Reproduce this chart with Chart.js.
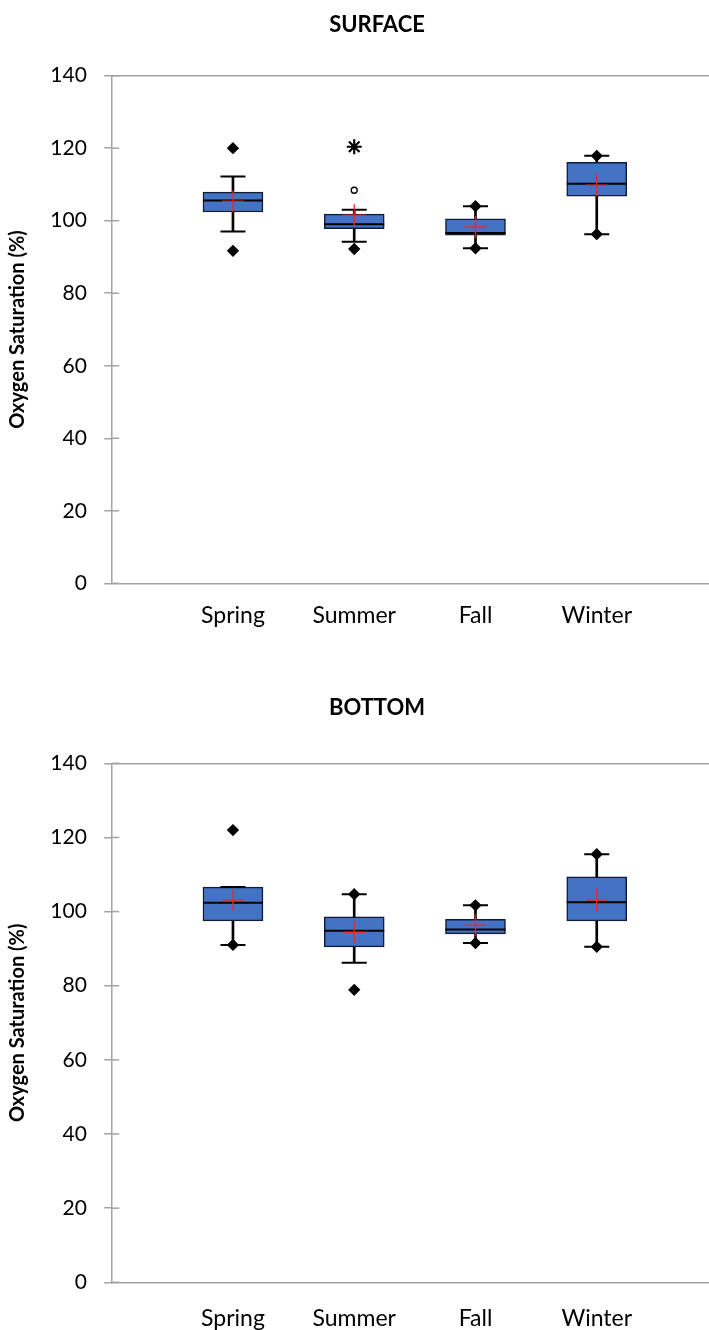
<!DOCTYPE html>
<html>
<head>
<meta charset="utf-8">
<script src="https://cdn.jsdelivr.net/npm/chart.js@4/dist/chart.umd.min.js"></script>
<style>
  html, body { margin: 0; padding: 0; background: #fff; overflow: hidden; width: 709px; }
  canvas { display: block; }
</style>
</head>
<body>
<canvas id="surfaceChart" width="754" height="665"></canvas>
<canvas id="bottomChart" width="754" height="665"></canvas>
<script>
var seasons = ['Spring', 'Summer', 'Fall', 'Winter'];
var yTicks = [0, 20, 40, 60, 80, 100, 120, 140];

// SURFACE
var surfWhiskLo = [97.0, 94.2, 92.4, 96.3],
	surfQ1      = [102.4, 97.8, 96.0, 106.8],
	surfMedian  = [105.6, 99.0, 96.6, 110.2],
	surfQ3      = [107.9, 101.8, 100.5, 116.1],
	surfWhiskHi = [112.2, 103.0, 104.0, 117.9],
	surfMean    = [105.4, 101.5, 98.3, 109.8],
	surfMin     = [91.7, 92.2, 92.4, 96.3],
	surfMax     = [120.0, null, 104.0, 117.9],
	surfMild    = [null, 108.4, null, null],
	surfExtreme = [null, 120.4, null, null];

// BOTTOM
var botWhiskLo = [91.0, 86.2, 91.5, 90.5],
	botQ1      = [97.5, 90.5, 94.0, 97.5],
	botMedian  = [102.4, 94.8, 95.2, 102.5],
	botQ3      = [106.6, 98.6, 97.9, 109.4],
	botWhiskHi = [106.6, 104.7, 101.7, 115.5],
	botMean    = [103.1, 94.4, 96.3, 103.1],
	botMin     = [91.0, 78.9, 91.5, 90.5],
	botMax     = [122.0, 104.7, 101.7, 115.5],
	botMild    = [null, null, null, null],
	botExtreme = [null, null, null, null];

var AXIS_GRAY = '#a3a3a3',
	BOX_BLUE  = '#4472C4';

Chart.defaults.font.family = 'Lato';
Chart.defaults.color = '#000';

function pts(arr) {
	var out = [];
	for (let i=0; i<arr.length; i++) {
		if (arr[i] != null) out.push({x: i+1, y: arr[i]});
	}
	return out;
}
function ranges(lo, hi) {
	return lo.map((v,i) => ({x: i+1, y: [v, hi[i]]}));
}

// inner half of the crossing tick marks on the y axis
const innerTicks = {
	id: 'innerTicks',
	afterLayout(chart) {
		// title sits centred on the full (uncropped) chart width
		chart.titleBlock.left += 18;
		chart.titleBlock.right += 18;
	},
	afterDraw(chart) {
		const ys = chart.scales.y, ctx = chart.ctx;
		ctx.save();
		ctx.strokeStyle = AXIS_GRAY;
		ctx.lineWidth = 1.5;
		ys.ticks.forEach(t => {
			const py = ys.getPixelForValue(t.value);
			ctx.beginPath();
			ctx.moveTo(ys.right, py);
			ctx.lineTo(ys.right + 7.5, py);
			ctx.stroke();
		});
		ctx.restore();
	}
};

function makeChart(id, title, d, lay) {
	const ctx = document.getElementById(id).getContext('2d');
	return new Chart(ctx, {
		type: 'bar',
		data: {
			datasets: [
				{ // whiskers
					type: 'bar', order: 10, grouped: false,
					data: ranges(d.whiskLo, d.whiskHi),
					backgroundColor: '#000', borderWidth: 0, barThickness: 2
				},
				{ // boxes
					type: 'bar', order: 9, grouped: false,
					data: ranges(d.q1, d.q3),
					backgroundColor: BOX_BLUE, borderColor: '#0f1c36', borderWidth: 1.5,
					borderSkipped: false, barThickness: 60
				},
				{ // medians
					type: 'scatter', order: 5, data: pts(d.median),
					pointStyle: 'line', pointRadius: 30, pointBorderWidth: 2, pointBorderColor: '#000'
				},
				{ // caps
					type: 'scatter', order: 5, data: pts(d.whiskLo).concat(pts(d.whiskHi)),
					pointStyle: 'line', pointRadius: 12.5, pointBorderWidth: 2, pointBorderColor: '#000'
				},
				{ // min / max
					type: 'scatter', order: 3, data: pts(d.min).concat(pts(d.max)),
					pointStyle: 'rectRot', pointRadius: 5.3, pointBorderWidth: 1.2,
					pointBackgroundColor: '#000', pointBorderColor: '#000'
				},
				{ // mild outliers
					type: 'scatter', order: 3, data: pts(d.mild),
					pointStyle: 'circle', pointRadius: 3, pointBorderWidth: 1.3,
					pointBackgroundColor: '#fff', pointBorderColor: '#000'
				},
				{ // extreme outliers
					type: 'scatter', order: 3, data: pts(d.extreme),
					pointStyle: 'star', pointRadius: 7.5, pointBorderWidth: 2.2,
					pointBackgroundColor: '#000', pointBorderColor: '#000'
				},
				{ // means
					type: 'scatter', order: 1, data: pts(d.mean),
					pointStyle: 'cross', pointRadius: 11, pointBorderWidth: 1.5,
					pointBorderColor: 'rgba(255,30,30,0.85)'
				}
			]
		},
		options: {
			responsive: false,
			animation: false,
			events: [],
			layout: { padding: { left: 0, right: 36, top: 0, bottom: 0 } },
			plugins: {
				legend: { display: false },
				tooltip: { enabled: false },
				title: {
					display: true,
					text: title,
					font: { size: 22, weight: 'bold' },
					padding: { top: lay.titleTop, bottom: lay.titleBottom }
				}
			},
			scales: {
				x: {
					type: 'linear',
					min: 0,
					max: 5,
					offset: false,
					afterFit: (s) => { s.height = lay.xHeight; s.paddingLeft = 0; s.paddingRight = 0; },
					afterBuildTicks: (s) => { s.ticks = seasons.map((c,i) => ({value: i+1})); },
					grid: { display: true, offset: false, color: 'rgba(0,0,0,0)', drawTicks: false },
					border: { display: true, color: AXIS_GRAY, width: 1.5 },
					ticks: {
						padding: lay.xPad,
						font: { size: 23 },
						callback: (v) => seasons[v-1]
					}
				},
				y: {
					min: 0,
					max: 140,
					afterFit: (s) => { s.width = 111.7; },
					afterBuildTicks: (s) => { s.ticks = yTicks.map(v => ({value: v})); },
					grid: {
						color: (c) => (c.tick && c.tick.value === 140) ? AXIS_GRAY : 'rgba(0,0,0,0)',
						tickColor: AXIS_GRAY,
						tickLength: 7.5,
						lineWidth: 1.5
					},
					border: { display: true, color: AXIS_GRAY, width: 1.5 },
					ticks: { padding: 17.3, font: { size: 21 } },
					title: {
						display: true,
						text: 'Oxygen Saturation (%)',
						font: { size: 20, weight: 'bold' },
						padding: { top: 6, bottom: 0 }
					}
				}
			}
		},
		plugins: [innerTicks]
	});
}

makeChart('surfaceChart', 'SURFACE', {
	whiskLo: surfWhiskLo, q1: surfQ1, median: surfMedian, q3: surfQ3, whiskHi: surfWhiskHi,
	mean: surfMean, min: surfMin, max: surfMax, mild: surfMild, extreme: surfExtreme
}, { titleTop: 11.8, titleBottom: 37.5, xHeight: 81.7, xPad: 18.5 });

makeChart('bottomChart', 'BOTTOM', {
	whiskLo: botWhiskLo, q1: botQ1, median: botMedian, q3: botQ3, whiskHi: botWhiskHi,
	mean: botMean, min: botMin, max: botMax, mild: botMild, extreme: botExtreme
}, { titleTop: 29.8, titleBottom: 42.1, xHeight: 47.7, xPad: 22 });
</script>
</body>
</html>
